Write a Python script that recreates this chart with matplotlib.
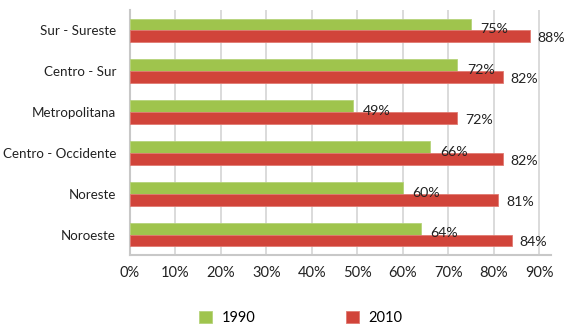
import numpy as np
import matplotlib
matplotlib.use('Agg')
import matplotlib.pyplot as plt
from matplotlib.ticker import PercentFormatter

# bottom to top
regions = ['Noroeste', 'Noreste', 'Centro - Occidente', 'Metropolitana',
           'Centro - Sur', 'Sur - Sureste']
v1990 = [64, 60, 66, 49, 72, 75]
v2010 = [84, 81, 82, 72, 82, 88]

GREEN = '#9fc44d'
RED = '#d1443a'
GRID = '#d4d4d4'

plt.rcParams['font.family'] = ['Lato', 'DejaVu Sans']
plt.rcParams['font.size'] = 10

fig = plt.figure(figsize=(5.68, 3.28), dpi=100)
ax = fig.add_axes([130 / 568, 1 - 255 / 328, 421 / 568, 245 / 328])

y = np.arange(len(regions))
h = 0.29
ax.barh(y + h / 2, v1990, height=h, color=GREEN, edgecolor='#b5d37a', lw=0.6,
        label='1990', zorder=3)
ax.barh(y - h / 2, v2010, height=h, color=RED, edgecolor='#e07a72', lw=0.6,
        label='2010', zorder=3)

for yi, a, b in zip(y, v1990, v2010):
    ax.annotate(f'{a}%', (a, yi + 0.03), xytext=(7, 0), textcoords='offset points',
                ha='left', va='center', fontsize=10.2, color='#222222', zorder=4)
    ax.annotate(f'{b}%', (b, yi - 0.19), xytext=(5.5, 0), textcoords='offset points',
                ha='left', va='center', fontsize=10.2, color='#222222', zorder=4)

ax.set_xlim(0, 92.6)
ax.set_ylim(-0.5, 5.5)
ax.set_xticks(np.arange(0, 91, 10))
ax.xaxis.set_major_formatter(PercentFormatter(decimals=0))
ax.set_yticks(y)
ax.set_yticklabels(regions)
ax.tick_params(axis='x', length=0, pad=8, labelsize=10.5, colors='#222222')
ax.tick_params(axis='y', length=0, pad=10, labelsize=9.6, colors='#222222')
ax.grid(axis='x', color=GRID, lw=1.2, zorder=0)
for s in ['top', 'right']:
    ax.spines[s].set_visible(False)
for s in ['left', 'bottom']:
    ax.spines[s].set_color('#c8c8c8')
    ax.spines[s].set_linewidth(1.5)

fig.legend(loc='center', bbox_to_anchor=(0.53, 1 - 318 / 328), ncol=2,
           frameon=False, fontsize=10.5, handlelength=0.85, handleheight=0.85,
           handletextpad=0.7, columnspacing=6.2)

fig.savefig('out.png', dpi=100)
